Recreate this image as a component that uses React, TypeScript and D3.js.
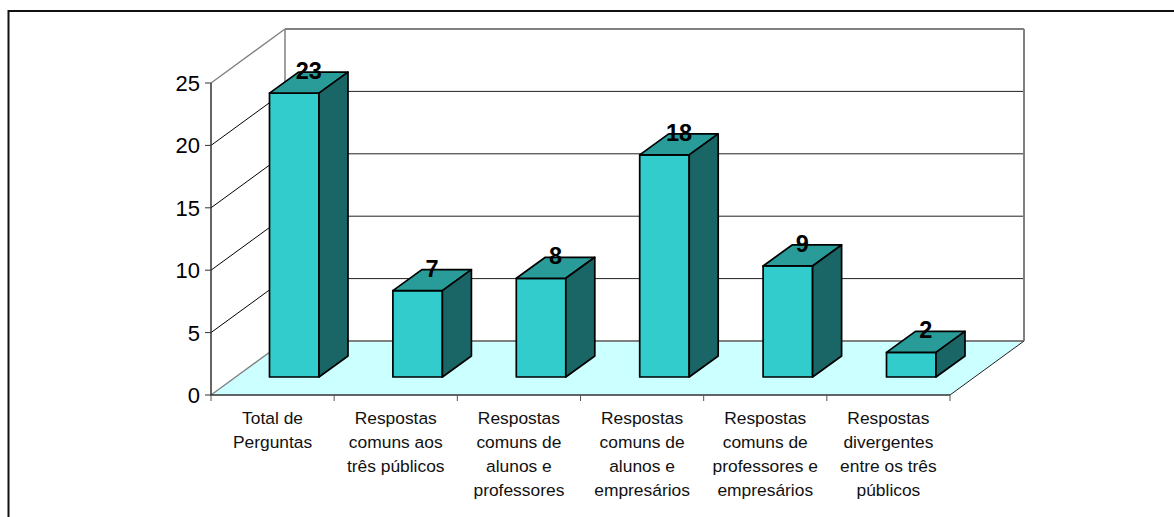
import * as d3 from 'd3';

const categories = [
  'Total de Perguntas',
  'Respostas comuns aos três públicos',
  'Respostas comuns de alunos e professores',
  'Respostas comuns de alunos e empresários',
  'Respostas comuns de professores e empresários',
  'Respostas divergentes entre os três públicos',
];
const categoryLines = [
  ['Total de', 'Perguntas'],
  ['Respostas', 'comuns aos', 'três públicos'],
  ['Respostas', 'comuns de', 'alunos e', 'professores'],
  ['Respostas', 'comuns de', 'alunos e', 'empresários'],
  ['Respostas', 'comuns de', 'professores e', 'empresários'],
  ['Respostas', 'divergentes', 'entre os três', 'públicos'],
];
const values = [23, 7, 8, 18, 9, 2];
const yTicks = [0, 5, 10, 15, 20, 25];

const WIDTH = 1174;
const HEIGHT = 517;
const FONT = '"Liberation Sans", Arial, sans-serif';

// 3D offsets: wall depth and bar depth
const depthX = 74;
const depthY = -54;
const barDepthX = 29;
const barDepthY = -21;
const barWidth = 49.5;

const x = d3.scaleBand<string>().domain(categories).range([211, 950]);
const y = d3.scaleLinear().domain([0, 25]).range([395, 83]);
// bars stand a little in front of the back wall, on the floor
const barX = d3.scaleBand<string>().domain(categories).range([269.5, 1009.9]);
const barY = d3.scaleLinear().domain([0, 25]).range([377, 68.5]);

const poly = (pts: [number, number][]) => d3.line()(pts) + 'Z';

export default function App() {
  const x0 = x.range()[0];
  const x1 = x.range()[1];
  const y0 = y(0);
  const yTop = y(25);

  return (
    <svg
      width={WIDTH}
      height={HEIGHT}
      viewBox={`0 0 ${WIDTH} ${HEIGHT}`}
      style={{ position: 'fixed', left: 0, top: 0, background: '#fff', fontFamily: FONT }}
    >
      {/* outer frame */}
      <path d={`M8.5,${HEIGHT}V11H${WIDTH}`} fill="none" stroke="#111" strokeWidth={2} />

      {/* floor */}
      <path
        d={poly([[x0, y0], [x1, y0], [x1 + depthX, y0 + depthY], [x0 + depthX, y0 + depthY]])}
        fill="#ccffff"
        stroke="none"
      />

      {/* gridlines on side wall and back wall */}
      {yTicks.map(t => {
        const isEdge = t === 0 || t === 25;
        return (
          <g key={t} fill="none">
            <path
              d={`M${x0},${y(t)}L${x0 + depthX},${y(t) + depthY}`}
              stroke={isEdge ? '#808080' : '#000'}
              strokeWidth={isEdge ? 1.3 : 1}
            />
            <path
              d={`M${x0 + depthX},${y(t) + depthY}H${x1 + depthX}`}
              stroke={isEdge ? '#808080' : '#222'}
              strokeWidth={isEdge ? 2 : 1}
            />
          </g>
        );
      })}
      <path d={`M${x0 + depthX},${yTop + depthY}V${y0 + depthY}`} stroke="#808080" strokeWidth={1.5} />
      <path d={`M${x1 + depthX},${yTop + depthY}V${y0 + depthY}`} stroke="#808080" strokeWidth={2} />
      <path d={`M${x1},${y0}L${x1 + depthX},${y0 + depthY}`} stroke="#222" strokeWidth={1} />

      {/* axes */}
      <path d={`M${x0},${yTop}V${y0}H${x1}`} fill="none" stroke="#333" strokeWidth={1.5} />
      {yTicks.map(t => (
        <g key={t}>
          <path d={`M${x0 - 6},${y(t)}H${x0}`} stroke="#333" strokeWidth={1} />
          <text x={x0 - 11} y={y(t) + 8} textAnchor="end" fontSize={22} fill="#000">
            {t}
          </text>
        </g>
      ))}
      {[...categories.map(c => x(c) as number), x1].map(px => (
        <path key={px} d={`M${px},${y0}V${y0 + 6}`} stroke="#555" strokeWidth={1} />
      ))}
      {categories.map((c, i) => (
        <text key={c} textAnchor="middle" fontSize={17.4} fill="#111">
          {categoryLines[i].map((line, j) => (
            <tspan key={j} x={(x(c) as number) + x.bandwidth() / 2} y={424 + j * 24}>
              {line}
            </tspan>
          ))}
        </text>
      ))}

      {/* bars */}
      {categories.map((c, i) => {
        const left = barX(c) as number;
        const right = left + barWidth;
        const top = barY(values[i]);
        const base = barY(0);
        return (
          <g key={c} stroke="#000" strokeWidth={1.7} strokeLinejoin="round">
            <path d={poly([[left, base], [right, base], [right, top], [left, top]])} fill="#33cccc" />
            <path
              d={poly([[left, top], [right, top], [right + barDepthX, top + barDepthY], [left + barDepthX, top + barDepthY]])}
              fill="#299c99"
            />
            <path
              d={poly([[right, base], [right + barDepthX, base + barDepthY], [right + barDepthX, top + barDepthY], [right, top]])}
              fill="#1a6666"
            />
          </g>
        );
      })}

      {/* value labels */}
      {categories.map((c, i) => (
        <text
          key={c}
          x={(barX(c) as number) + barWidth / 2 + barDepthX / 2}
          y={barY(values[i]) - 14}
          textAnchor="middle"
          fontSize={23.5}
          fontWeight="bold"
          fill="#000"
        >
          {values[i]}
        </text>
      ))}
    </svg>
  );
}
